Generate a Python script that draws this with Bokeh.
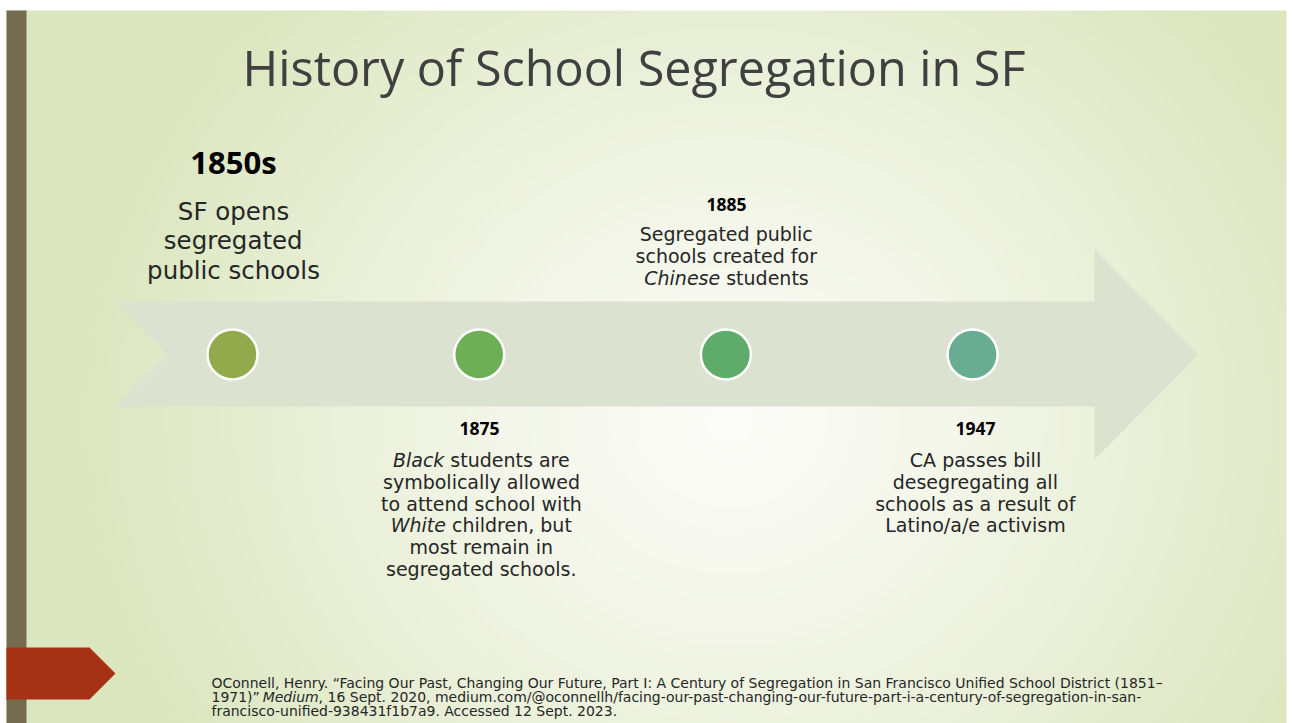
import numpy as np
from bokeh.plotting import figure
from bokeh.models import Range1d
from bokeh.embed import file_html
from bokeh.resources import INLINE
from bokeh.core.properties import value

# ---------------- data ----------------
title_text = "History of School Segregation in SF"
event_years = ["1850s", "1875", "1885", "1947"]
event_colors = ["#93aa4c", "#6daf55", "#5eab6a", "#68ac91"]
desc_1850s = ["SF opens", "segregated", "public schools"]
desc_1885 = [[("Segregated public", "normal")],
             [("schools created for", "normal")],
             [("Chinese", "italic"), (" students", "normal")]]
desc_1875 = [[("Black", "italic"), (" students are", "normal")],
             [("symbolically allowed", "normal")],
             [("to attend school with", "normal")],
             [("White", "italic"), (" children, but", "normal")],
             [("most remain in", "normal")],
             [("segregated schools.", "normal")]]
desc_1947 = ["CA passes bill", "desegregating all", "schools as a result of", "Latino/a/e activism"]
citation = [
    [("OConnell, Henry. \u201cFacing Our Past, Changing Our Future, Part I: A Century of Segregation in San Francisco Unified School District (1851\u2013", "normal")],
    [("1971)\u201d ", "normal"), ("Medium", "italic"),
     (", 16 Sept. 2020, medium.com/@oconnellh/facing-our-past-changing-our-future-part-i-a-century-of-segregation-in-san-", "normal")],
    [("francisco-unified-938431f1b7a9. Accessed 12 Sept. 2023.", "normal")],
]

# approximate DejaVu Sans advance widths (units of 1/2048 em), used to lay out mixed-style lines
_DV = {" ": 651, "!": 821, "\"": 942, "'": 563, "(": 799, ")": 799, ",": 651, "-": 739, ".": 651,
       "/": 690, ":": 690, ";": 690, "@": 2048, "\u201c": 836, "\u201d": 836, "\u2013": 1024,
       "A": 1401, "B": 1405, "C": 1430, "D": 1577, "E": 1294, "F": 1178, "G": 1587, "H": 1540,
       "I": 604, "J": 604, "K": 1343, "L": 1141, "M": 1767, "N": 1532, "O": 1612, "P": 1235,
       "Q": 1612, "R": 1423, "S": 1300, "T": 1251, "U": 1499, "V": 1401, "W": 2025, "X": 1403,
       "Y": 1251, "Z": 1403,
       "a": 1255, "b": 1300, "c": 1126, "d": 1300, "e": 1260, "f": 721, "g": 1300, "h": 1298,
       "i": 569, "j": 569, "k": 1186, "l": 569, "m": 1995, "n": 1298, "o": 1253, "p": 1300,
       "q": 1300, "r": 842, "s": 1067, "t": 803, "u": 1298, "v": 1212, "w": 1675, "x": 1212,
       "y": 1212, "z": 1075}
for _d in "0123456789":
    _DV[_d] = 1303


def em_width(s):
    return sum(_DV.get(ch, 1200) for ch in s) / 2048.0


# ---------------- figure (data coords = screen pixels, y negated) ----------------
W, H = 1293, 723
p = figure(width=W, height=H, x_range=Range1d(0, W), y_range=Range1d(-H, 0),
           output_backend="svg", toolbar_location=None, min_border=0,
           x_axis_location=None, y_axis_location=None)
p.grid.visible = False
p.outline_line_color = None
p.background_fill_color = "white"
p.border_fill_color = "white"

# background gradient of the slide
x0, x1, y0, y1 = 6, 1286, 10, 723
nx, ny = 640, 360
xs = x0 + (np.arange(nx) + 0.5) * (x1 - x0) / nx
ys = y1 - (np.arange(ny) + 0.5) * (y1 - y0) / ny
XX, YY = np.meshgrid(xs, ys)
t = np.sqrt(((XX - 730) / 660.0) ** 2 + ((YY - 420) / 600.0) ** 2)
t = np.clip(t, 0, 1) ** 1.25
c0 = np.array([252, 252, 248.0])
c1 = np.array([219, 230, 190.0])
rgb = c0[None, None, :] * (1 - t[..., None]) + c1[None, None, :] * t[..., None]
img = np.empty((ny, nx), dtype=np.uint32)
view = img.view(dtype=np.uint8).reshape((ny, nx, 4))
view[..., 0] = rgb[..., 0]
view[..., 1] = rgb[..., 1]
view[..., 2] = rgb[..., 2]
view[..., 3] = 255
p.image_rgba(image=[img], x=x0, y=-y1, dw=x1 - x0, dh=y1 - y0)

# left brown bar and red pentagon
p.quad(left=6, right=26, top=-10, bottom=-730, fill_color="#756c50", line_color=None)
p.patch(x=[6, 89, 115, 89, 6], y=[-647, -647, -673, -699, -699], fill_color="#a53214", line_color=None)

# timeline arrow
p.patch(x=[115, 1094, 1094, 1198, 1094, 1094, 115, 167],
        y=[-301, -301, -249, -354, -459, -406, -406, -354],
        fill_color="#dbe2cf", line_color=None)

# circles
cx = [232 + 246.7 * i for i in range(len(event_years))]
p.scatter(x=cx, y=[-354] * len(cx), size=50, marker="circle",
          fill_color=event_colors, line_color="white", line_width=2.5)

BODY = "DejaVu Sans"
OPEN = "Open Sans"
# offset from the text anchor to the alphabetic baseline (text is anchored at its box middle)
MID = {BODY: 0.346, OPEN: 0.388}


def txt(x, y, s, size, style="normal", align="left", color="#262626", font=BODY):
    p.text(x=[x], y=[-(y - MID[font] * size)], text=[s], text_font=value(font),
           text_font_size=f"{size:.2f}px", text_font_style=style, text_align=align,
           text_baseline="alphabetic", text_color=color)


def line_at(segs, x_left, y, size, color="#262626"):
    x = x_left
    for s, st in segs:
        core = s.strip(" ")
        lead = len(s) - len(s.lstrip(" "))
        x += em_width(" " * lead) * size
        txt(x, y, core, size, style=st, align="left", color=color)
        x += em_width(s.lstrip(" ")) * size


def centered(segs, xc, y, size):
    w = sum(em_width(s) for s, _ in segs) * size
    line_at(segs, xc - w / 2.0, y, size)


# title
txt(633.5, 85, title_text, 48.5, align="center", color="#404040", font=OPEN)

# years
txt(233, 174, event_years[0], 31, style="bold", align="center", color="black", font=OPEN)
txt(479, 435, event_years[1], 17.5, style="bold", align="center", color="black", font=OPEN)
txt(726, 211, event_years[2], 17.5, style="bold", align="center", color="black", font=OPEN)
txt(975, 435, event_years[3], 17.5, style="bold", align="center", color="black", font=OPEN)

# 1850s description
S1 = 24.5
for i, s in enumerate(desc_1850s):
    centered([(s, "normal")], 233, 219 + 29.5 * i, S1)

BS = 19.0
for i, line in enumerate(desc_1885):
    centered(line, 726, 240 + 22 * i, BS)
for i, line in enumerate(desc_1875):
    centered(line, 481, 466 + 21.8 * i, BS)
for i, s in enumerate(desc_1947):
    centered([(s, "normal")], 975, 466 + 21.8 * i, BS)

# citation (size chosen so the first line spans the same width as in the slide)
CS = 957.0 / em_width(citation[0][0][0])
for i, segs in enumerate(citation):
    line_at(segs, 211, 687 + 14 * i, CS)

open("out.html", "w").write(file_html(p, INLINE))
